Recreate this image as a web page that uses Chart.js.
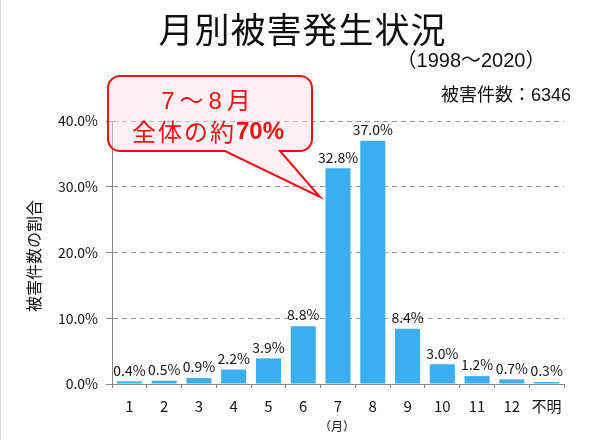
<!DOCTYPE html>
<html>
<head>
<meta charset="utf-8">
<script src="https://cdn.jsdelivr.net/npm/chart.js@4"></script>
<style>
  html, body { margin: 0; padding: 0; background: #fff; }
  #wrap { width: 600px; height: 440px; }
</style>
</head>
<body>
<div id="wrap"><canvas id="monthChart"></canvas></div>
<script>
const months = ['1', '2', '3', '4', '5', '6', '7', '8', '9', '10', '11', '12', '不明'];
const shares = [0.4, 0.5, 0.9, 2.2, 3.9, 8.8, 32.8, 37.0, 8.4, 3.0, 1.2, 0.7, 0.3];
const yTicks = [0, 10, 20, 30, 40];

const JP = '"Noto Sans CJK JP", "Noto Sans", sans-serif';
const NUM = '"Liberation Sans", "Noto Sans CJK JP", sans-serif';

// draw text centred at x, with letter spacing
function spaced(ctx, text, x, y, gap) {
  ctx.letterSpacing = gap + 'px';
  const w = ctx.measureText(text).width - gap;
  ctx.textAlign = 'left';
  ctx.fillText(text, x - w / 2, y);
  ctx.letterSpacing = '0px';
}

// labels above bars, titles and the red callout
const decorations = {
  id: 'decorations',
  afterDatasetsDraw(chart) {
    const ctx = chart.ctx;
    const meta = chart.getDatasetMeta(0);
    ctx.save();
    ctx.fillStyle = '#111';
    ctx.font = '14px ' + JP;
    ctx.textAlign = 'center';
    ctx.textBaseline = 'bottom';
    meta.data.forEach((bar, i) => {
      ctx.fillText(shares[i].toFixed(1) + '%', bar.x, bar.y - 4);
    });

    // callout
    ctx.beginPath();
    const l = 108, r = 312, t = 76, b = 151, rad = 12;
    ctx.moveTo(l + rad, t);
    ctx.lineTo(r - rad, t);
    ctx.arcTo(r, t, r, t + rad, rad);
    ctx.lineTo(r, b - rad);
    ctx.arcTo(r, b, r - rad, b, rad);
    ctx.lineTo(280, b);
    ctx.lineTo(320, 197);
    ctx.lineTo(225, b);
    ctx.lineTo(l + rad, b);
    ctx.arcTo(l, b, l, b - rad, rad);
    ctx.lineTo(l, t + rad);
    ctx.arcTo(l, t, l + rad, t, rad);
    ctx.closePath();
    ctx.fillStyle = 'rgba(255, 225, 235, 0.45)';
    ctx.fill();
    ctx.strokeStyle = '#f01010';
    ctx.lineWidth = 2;
    ctx.stroke();

    ctx.fillStyle = '#f01010';
    ctx.textBaseline = 'middle';
    ctx.font = '24px ' + NUM;
    spaced(ctx, '7～8月', 206, 102, 5);
    const p1 = '全体の約', p2 = '70%';
    ctx.font = '24px ' + JP;
    ctx.letterSpacing = '2px';
    const w1 = ctx.measureText(p1).width;
    ctx.font = 'bold 24px ' + NUM;
    ctx.letterSpacing = '0px';
    const w2 = ctx.measureText(p2).width;
    const sx = 208 - (w1 + w2) / 2;
    ctx.textAlign = 'left';
    ctx.font = '24px ' + JP;
    ctx.letterSpacing = '2px';
    ctx.fillText(p1, sx, 132);
    ctx.letterSpacing = '0px';
    ctx.font = 'bold 24px ' + NUM;
    ctx.fillText(p2, sx + w1, 132);
    ctx.restore();
  },
  afterDraw(chart) {
    const ctx = chart.ctx;
    ctx.save();
    // faint frame edge on the left
    ctx.strokeStyle = '#d8d8d8';
    ctx.lineWidth = 1;
    ctx.beginPath();
    ctx.moveTo(0.5, 0);
    ctx.lineTo(0.5, 440);
    ctx.stroke();

    ctx.fillStyle = '#111';
    ctx.textBaseline = 'middle';
    ctx.font = '35px ' + JP;
    spaced(ctx, '月別被害発生状況', 302, 30, 1);
    ctx.font = '20px ' + NUM;
    spaced(ctx, '（1998～2020）', 471, 61, 0);
    ctx.font = '18px ' + NUM;
    spaced(ctx, '被害件数：6346', 506, 96, 0);
    ctx.font = '12px ' + JP;
    spaced(ctx, '（月）', 337, 426, 0);

    ctx.translate(34, 256);
    ctx.rotate(-Math.PI / 2);
    ctx.font = '16px ' + JP;
    spaced(ctx, '被害件数の割合', 0, 0, 0);
    ctx.restore();
  }
};

new Chart(document.getElementById('monthChart'), {
  type: 'bar',
  data: {
    labels: months,
    datasets: [{
      data: shares,
      backgroundColor: '#3aaeef',
      barPercentage: 0.72,
      categoryPercentage: 1
    }]
  },
  plugins: [decorations],
  options: {
    responsive: true,
    maintainAspectRatio: false,
    animation: false,
    layout: { padding: { top: 121, right: 36, left: 0, bottom: 0 } },
    plugins: { legend: { display: false }, tooltip: { enabled: false } },
    scales: {
      x: {
        afterFit: s => { s.height = 56; },
        grid: { offset: true, drawOnChartArea: false, drawTicks: true, tickLength: 4, color: '#888' },
        border: { color: '#888', width: 1 },
        ticks: { color: '#111', font: { family: JP, size: 15 }, padding: 9, maxRotation: 0, autoSkip: false }
      },
      y: {
        min: 0,
        max: 40,
        afterFit: s => { s.width = 112; },
        afterBuildTicks: s => { s.ticks = yTicks.map(v => ({ value: v })); },
        grid: { color: '#999', lineWidth: 1, tickLength: 6, drawTicks: true, tickColor: '#888' },
        border: { color: '#888', width: 1, dash: [5, 4] },
        ticks: {
          color: '#111',
          font: { family: JP, size: 14 },
          padding: 8,
          callback: v => v.toFixed(1) + '%'
        }
      }
    }
  }
});
</script>
</body>
</html>
